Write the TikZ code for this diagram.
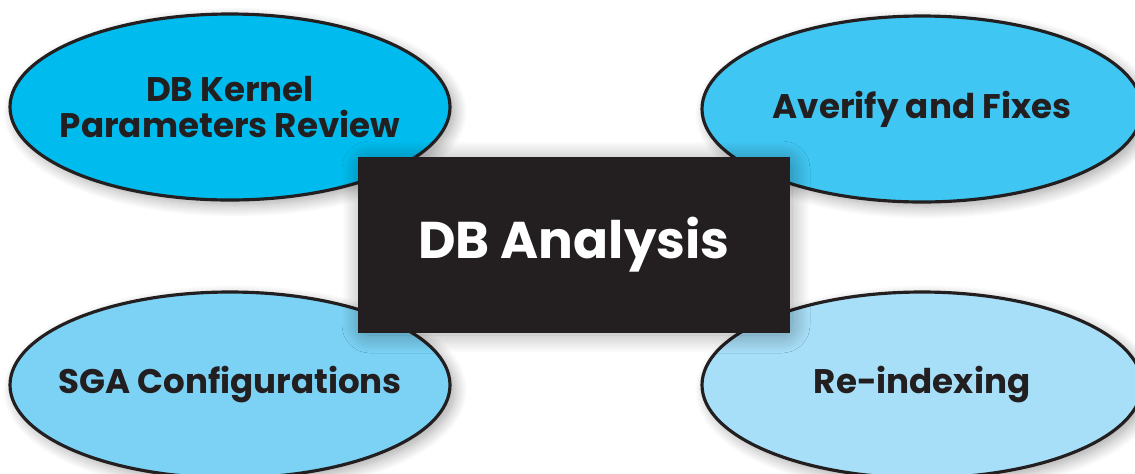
\documentclass[tikz,border=0pt]{standalone}
\usepackage{fontspec}
\setmainfont{Poppins}
\usepackage{tikz}
\usetikzlibrary{shapes.geometric,shadows.blur}

\definecolor{ink}{HTML}{231F20}
\definecolor{blueA}{HTML}{00BCEE}
\definecolor{blueB}{HTML}{40C6F2}
\definecolor{blueC}{HTML}{7BD2F4}
\definecolor{blueD}{HTML}{A8DFF8}

\begin{document}
\begin{tikzpicture}[x=1cm, y=-1cm,
    topic/.style={ellipse, draw=ink, line width=0.9pt, inner xsep=-0.8cm, inner ysep=0pt,
        minimum width=4.4cm, minimum height=1.86cm,
        text=ink, align=center, font=\fontsize{9.7}{10.4}\selectfont\bfseries,
        blur shadow={shadow xshift=0.05cm, shadow yshift=-0.05cm, shadow blur radius=0.12cm, shadow blur steps=12, shadow opacity=35}},
    hub/.style={rectangle, fill=ink, minimum width=4.32cm, minimum height=1.76cm,
        text=white, font=\fontsize{14.7}{18}\selectfont\bfseries,
        blur shadow={shadow xshift=0.02cm, shadow yshift=-0.02cm, shadow blur radius=0.18cm,
            shadow blur extra rounding=0.1cm, shadow blur steps=24, shadow opacity=35}}]
    \useasboundingbox (0, 0) rectangle (11.35, 4.73);

    \node[topic, fill=blueA] (kernel) at (2.30, 1.07) {DB Kernel\\Parameters Review};
    \node[topic, fill=blueB] (fixes) at (9.22, 1.09) {Averify and Fixes};
    \node[topic, fill=blueC] (sga) at (2.30, 3.85) {SGA Configurations};
    \node[topic, fill=blueD] (index) at (9.22, 3.85) {Re-indexing};

    \node[hub] (db) at (5.74, 2.45) {DB Analysis};
\end{tikzpicture}
\end{document}
